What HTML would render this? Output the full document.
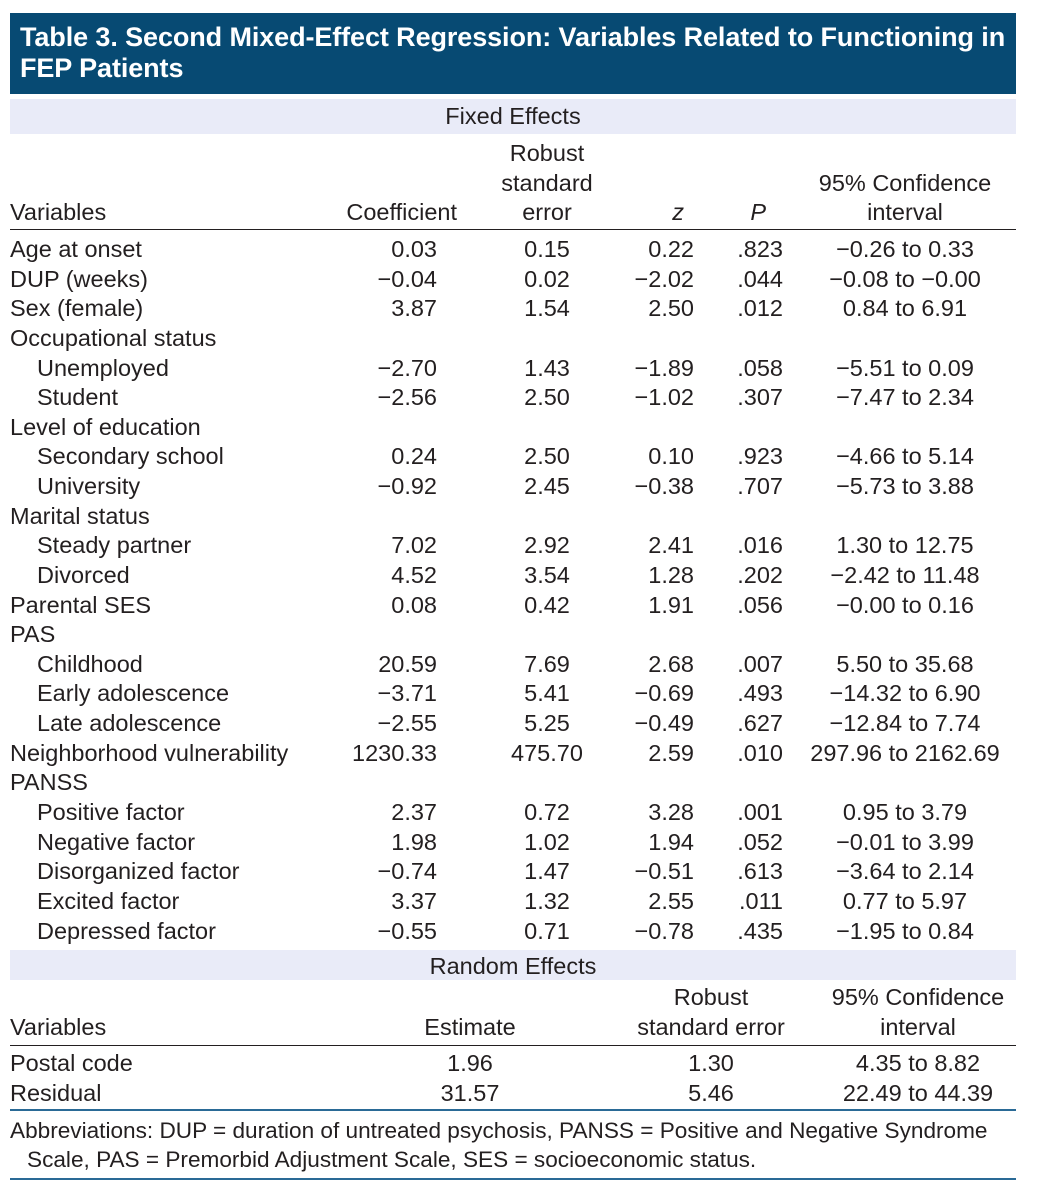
<!DOCTYPE html>
<html><head><meta charset="utf-8"><style>
body{margin:0;background:#fff;width:1038px;height:1200px;position:relative;overflow:hidden;font-family:"Liberation Sans",sans-serif;color:#231f20;font-size:23.5px;}
.hd{position:absolute;left:10px;top:13px;width:1006px;height:81px;background:#074a73;color:#fff;font-weight:bold;font-size:27px;line-height:31px;box-sizing:border-box;padding:9px 0 0 10px;letter-spacing:-0.1px}
.band{position:absolute;left:10px;width:1006px;background:#e9ebf8;text-align:center;line-height:35px}
.r{position:absolute;left:0;width:1038px;height:30px;line-height:30px;white-space:nowrap}
.r span{position:absolute;top:0}
.v{left:10px}.i{left:37px}
.c{left:297px;width:140px;text-align:right}
.s{left:477px;width:140px;text-align:center}
.z{left:594px;width:100px;text-align:right}
.p{left:683px;width:100px;text-align:right}
.ci{left:785px;width:240px;text-align:center}
.e{left:390px;width:160px;text-align:center}
.rs{left:601px;width:220px;text-align:center}
.rc{left:808px;width:220px;text-align:center}
.ln{position:absolute;left:10px;width:1006px;height:1px;background:#231f20}
.bl{position:absolute;left:10px;width:1006px;height:2px;background:#2a6a96}
.fn{position:absolute;left:10px;top:1116px;width:1020px;line-height:29px;font-size:22.6px;white-space:nowrap}
</style></head><body>
<div class="hd">Table 3. Second Mixed-Effect Regression: Variables Related to Functioning in<br>FEP Patients</div>
<div class="band" style="top:99px;height:35px">Fixed Effects</div>
<div class="r" style="top:138px"><span class="s">Robust</span></div>
<div class="r" style="top:168px"><span class="s">standard</span><span class="ci">95% Confidence</span></div>
<div class="r" style="top:197px"><span class="v">Variables</span><span class="c" style="left:317px">Coefficient</span><span class="s">error</span><span class="z" style="left:584px"><i>z</i></span><span class="p" style="left:666px"><i>P</i></span><span class="ci">interval</span></div>
<div class="ln" style="top:229px"></div>
<div class="r" style="top:234px"><span class="v">Age at onset</span><span class="c">0.03</span><span class="s">0.15</span><span class="z">0.22</span><span class="p">.823</span><span class="ci">−0.26 to 0.33</span></div>
<div class="r" style="top:264px"><span class="v">DUP (weeks)</span><span class="c">−0.04</span><span class="s">0.02</span><span class="z">−2.02</span><span class="p">.044</span><span class="ci">−0.08 to −0.00</span></div>
<div class="r" style="top:293px"><span class="v">Sex (female)</span><span class="c">3.87</span><span class="s">1.54</span><span class="z">2.50</span><span class="p">.012</span><span class="ci">0.84 to 6.91</span></div>
<div class="r" style="top:323px"><span class="v">Occupational status</span></div>
<div class="r" style="top:353px"><span class="i">Unemployed</span><span class="c">−2.70</span><span class="s">1.43</span><span class="z">−1.89</span><span class="p">.058</span><span class="ci">−5.51 to 0.09</span></div>
<div class="r" style="top:382px"><span class="i">Student</span><span class="c">−2.56</span><span class="s">2.50</span><span class="z">−1.02</span><span class="p">.307</span><span class="ci">−7.47 to 2.34</span></div>
<div class="r" style="top:412px"><span class="v">Level of education</span></div>
<div class="r" style="top:441px"><span class="i">Secondary school</span><span class="c">0.24</span><span class="s">2.50</span><span class="z">0.10</span><span class="p">.923</span><span class="ci">−4.66 to 5.14</span></div>
<div class="r" style="top:471px"><span class="i">University</span><span class="c">−0.92</span><span class="s">2.45</span><span class="z">−0.38</span><span class="p">.707</span><span class="ci">−5.73 to 3.88</span></div>
<div class="r" style="top:501px"><span class="v">Marital status</span></div>
<div class="r" style="top:530px"><span class="i">Steady partner</span><span class="c">7.02</span><span class="s">2.92</span><span class="z">2.41</span><span class="p">.016</span><span class="ci">1.30 to 12.75</span></div>
<div class="r" style="top:560px"><span class="i">Divorced</span><span class="c">4.52</span><span class="s">3.54</span><span class="z">1.28</span><span class="p">.202</span><span class="ci">−2.42 to 11.48</span></div>
<div class="r" style="top:590px"><span class="v">Parental SES</span><span class="c">0.08</span><span class="s">0.42</span><span class="z">1.91</span><span class="p">.056</span><span class="ci">−0.00 to 0.16</span></div>
<div class="r" style="top:619px"><span class="v">PAS</span></div>
<div class="r" style="top:649px"><span class="i">Childhood</span><span class="c">20.59</span><span class="s">7.69</span><span class="z">2.68</span><span class="p">.007</span><span class="ci">5.50 to 35.68</span></div>
<div class="r" style="top:678px"><span class="i">Early adolescence</span><span class="c">−3.71</span><span class="s">5.41</span><span class="z">−0.69</span><span class="p">.493</span><span class="ci">−14.32 to 6.90</span></div>
<div class="r" style="top:708px"><span class="i">Late adolescence</span><span class="c">−2.55</span><span class="s">5.25</span><span class="z">−0.49</span><span class="p">.627</span><span class="ci">−12.84 to 7.74</span></div>
<div class="r" style="top:738px"><span class="v">Neighborhood vulnerability</span><span class="c">1230.33</span><span class="s">475.70</span><span class="z">2.59</span><span class="p">.010</span><span class="ci">297.96 to 2162.69</span></div>
<div class="r" style="top:767px"><span class="v">PANSS</span></div>
<div class="r" style="top:797px"><span class="i">Positive factor</span><span class="c">2.37</span><span class="s">0.72</span><span class="z">3.28</span><span class="p">.001</span><span class="ci">0.95 to 3.79</span></div>
<div class="r" style="top:827px"><span class="i">Negative factor</span><span class="c">1.98</span><span class="s">1.02</span><span class="z">1.94</span><span class="p">.052</span><span class="ci">−0.01 to 3.99</span></div>
<div class="r" style="top:856px"><span class="i">Disorganized factor</span><span class="c">−0.74</span><span class="s">1.47</span><span class="z">−0.51</span><span class="p">.613</span><span class="ci">−3.64 to 2.14</span></div>
<div class="r" style="top:886px"><span class="i">Excited factor</span><span class="c">3.37</span><span class="s">1.32</span><span class="z">2.55</span><span class="p">.011</span><span class="ci">0.77 to 5.97</span></div>
<div class="r" style="top:916px"><span class="i">Depressed factor</span><span class="c">−0.55</span><span class="s">0.71</span><span class="z">−0.78</span><span class="p">.435</span><span class="ci">−1.95 to 0.84</span></div>
<div class="band" style="top:950px;height:30px;line-height:32px">Random Effects</div>
<div class="r" style="top:982px"><span class="rs">Robust</span><span class="rc">95% Confidence</span></div>
<div class="r" style="top:1012px"><span class="v">Variables</span><span class="e">Estimate</span><span class="rs">standard error</span><span class="rc">interval</span></div>
<div class="ln" style="top:1045px"></div>
<div class="r" style="top:1048px"><span class="v">Postal code</span><span class="e">1.96</span><span class="rs">1.30</span><span class="rc">4.35 to 8.82</span></div>
<div class="r" style="top:1078px"><span class="v">Residual</span><span class="e">31.57</span><span class="rs">5.46</span><span class="rc">22.49 to 44.39</span></div>
<div class="bl" style="top:1109px"></div>
<div class="fn">Abbreviations: DUP = duration of untreated psychosis, PANSS = Positive and Negative Syndrome<br><span style="padding-left:17px">Scale, PAS = Premorbid Adjustment Scale, SES = socioeconomic status.</span></div>
<div class="bl" style="top:1178px"></div>
</body></html>
